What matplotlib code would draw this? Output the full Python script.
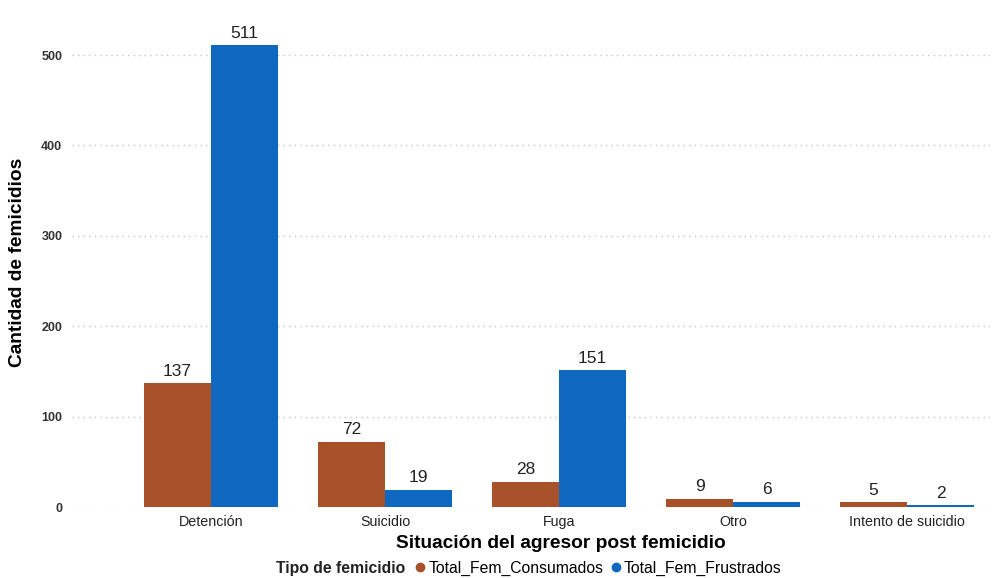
import matplotlib
matplotlib.use("Agg")
import matplotlib.pyplot as plt
import numpy as np
from matplotlib.lines import Line2D

categories = ["Detención", "Suicidio", "Fuga", "Otro", "Intento de suicidio"]
consumados = [137, 72, 28, 9, 5]
frustrados = [511, 19, 151, 6, 2]
series_names = ["Total_Fem_Consumados", "Total_Fem_Frustrados"]
colors = ["#A8502A", "#0F67C0"]
yticks = [0, 100, 200, 300, 400, 500]

plt.rcParams['font.family'] = ['Liberation Sans', 'DejaVu Sans']

W, H = 993, 578
fig = plt.figure(figsize=(W / 100, H / 100), dpi=100)
ax = fig.add_axes([72 / W, 1 - 507 / H, (990 - 72) / W, (507 - 20) / H])

x = np.arange(len(categories))
bw = 67 / 174
b1 = ax.bar(x - bw / 2, consumados, bw, color=colors[0], zorder=3)
b2 = ax.bar(x + bw / 2, frustrados, bw, color=colors[1], zorder=3)

for bars, vals in ((b1, consumados), (b2, frustrados)):
    for r, v in zip(bars, vals):
        ax.text(r.get_x() + r.get_width() / 2, v + 5, str(v), ha='center', va='bottom',
                fontsize=12.5, color='#222222')

ax.set_xlim(-0.799, 4.477)
ax.set_ylim(0, (507 - 20) / 0.904)
ax.set_yticks(yticks)
ax.set_yticklabels([str(t) for t in yticks], fontsize=9, fontweight='bold', color='#333333')
ax.set_xticks(x)
ax.set_xticklabels(categories, fontsize=10.3, color='#222222')
ax.tick_params(axis='both', length=0)
ax.tick_params(axis='y', pad=7)
ax.tick_params(axis='x', pad=6)
for s in ax.spines.values():
    s.set_visible(False)
ax.yaxis.grid(True, linestyle=(0, (1, 3)), color='#c8c8c8', linewidth=1, zorder=0)
ax.set_axisbelow(True)

fig.text(561 / W, 1 - 543 / H, "Situación del agresor post femicidio", ha='center', va='center',
         fontsize=13.8, fontweight='bold', color='black')
fig.text(18 / W, 1 - 262 / H, "Cantidad de femicidios", ha='center', va='center', rotation=90,
         fontsize=13.8, fontweight='bold', color='black')

handles = [Line2D([0], [0], marker='o', linestyle='', markersize=6, markerfacecolor=c,
                  markeredgecolor=c) for c in colors]
leg = fig.legend(handles, series_names, loc='center', bbox_to_anchor=(597 / W, 1 - 568 / H),
                 ncol=2, frameon=False, fontsize=11.3, handletextpad=0.0, columnspacing=0.3,
                 handlelength=1.0, borderaxespad=0, borderpad=0)
fig.text(405 / W, 1 - 568 / H, "Tipo de femicidio", ha='right', va='center', fontsize=11.3,
         fontweight='bold', color='#222222')

fig.savefig("out.png", dpi=100)
